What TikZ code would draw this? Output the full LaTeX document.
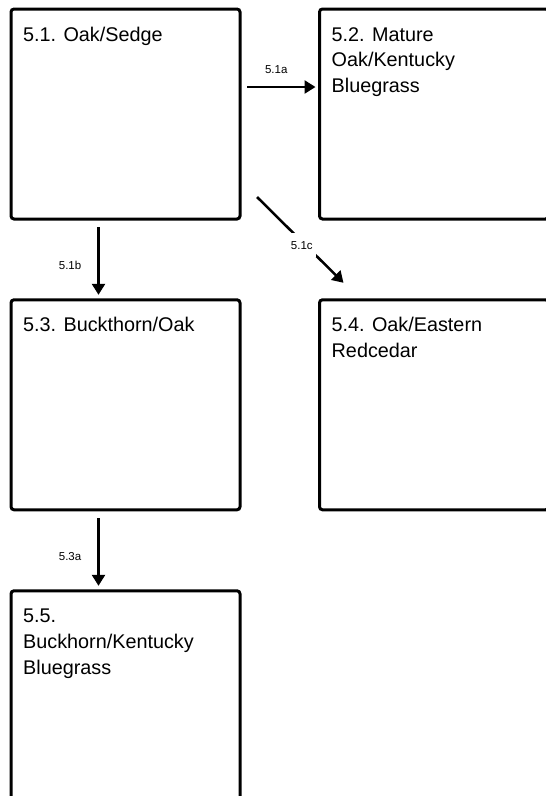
\documentclass[tikz,border=0pt]{standalone}
\usepackage{fontspec}
\setmainfont{Liberation Sans}
\usetikzlibrary{arrows.meta}
\begin{document}
\begin{tikzpicture}[x=1pt,y=-1pt,
  statebox/.style={draw=black, line width=3pt, rounded corners=3pt, minimum width=229pt, minimum height=210pt, inner sep=0pt, outer sep=0pt, anchor=north west},
  boxtext/.style={anchor=base west, inner sep=0pt, font=\fontsize{19.8}{25.7}\selectfont},
  arr/.style={line width=2.5pt, -{Triangle[length=11pt,width=13pt]}},
  lbl/.style={font=\fontsize{11.5}{13}\selectfont, inner sep=1pt}]
\useasboundingbox (0,0) rectangle (546,796);
\clip (0,0) rectangle (546,796);
\node[statebox] (b51) at (11,9) {};
\node[statebox] (b52) at (319.5,9) {};
\node[statebox] (b53) at (11,299.8) {};
\node[statebox] (b54) at (319.5,299.8) {};
\node[statebox] (b55) at (11,590.8) {};
\node[boxtext] (t51) at ([xshift=12pt,yshift=-32pt]b51.north west) {\vtop{\hbox{5.1. Oak/Sedge}}};
\node[boxtext] (t52) at ([xshift=12pt,yshift=-32pt]b52.north west) {\vtop{\hbox{5.2. Mature}\hbox{Oak/Kentucky}\hbox{Bluegrass}}};
\node[boxtext] (t53) at ([xshift=12pt,yshift=-32pt]b53.north west) {\vtop{\hbox{5.3. Buckthorn/Oak}}};
\node[boxtext] (t54) at ([xshift=12pt,yshift=-32pt]b54.north west) {\vtop{\hbox{5.4. Oak/Eastern}\hbox{Redcedar}}};
\node[boxtext] (t55) at ([xshift=12pt,yshift=-32pt]b55.north west) {\vtop{\hbox{5.5.}\hbox{Buckhorn/Kentucky}\hbox{Bluegrass}}};
\draw[arr] ([xshift=7pt,yshift=-78pt]b51.north east) -- node[lbl, above=11pt, xshift=-5pt] (l51a) {5.1a} ([xshift=-4pt,yshift=-78pt]b52.north west);
\draw[arr] ([xshift=87.5pt,yshift=-8pt]b51.south west) -- node[lbl, pos=0.57, left=15pt] (l51b) {5.1b} ([xshift=87.5pt,yshift=5pt]b53.north west);
\draw[arr] ([xshift=17pt,yshift=22pt]b51.south east) -- node[lbl, pos=0.53, yshift=-3pt, xshift=-1pt, fill=white, inner xsep=3pt, inner ysep=8pt] (l51c) {5.1c} ([xshift=24pt,yshift=17pt]b54.north west);
\draw[arr] ([xshift=87.5pt,yshift=-8.5pt]b53.south west) -- node[lbl, pos=0.57, left=15pt] (l53a) {5.3a} ([xshift=87.5pt,yshift=5pt]b55.north west);
\end{tikzpicture}
\end{document}
